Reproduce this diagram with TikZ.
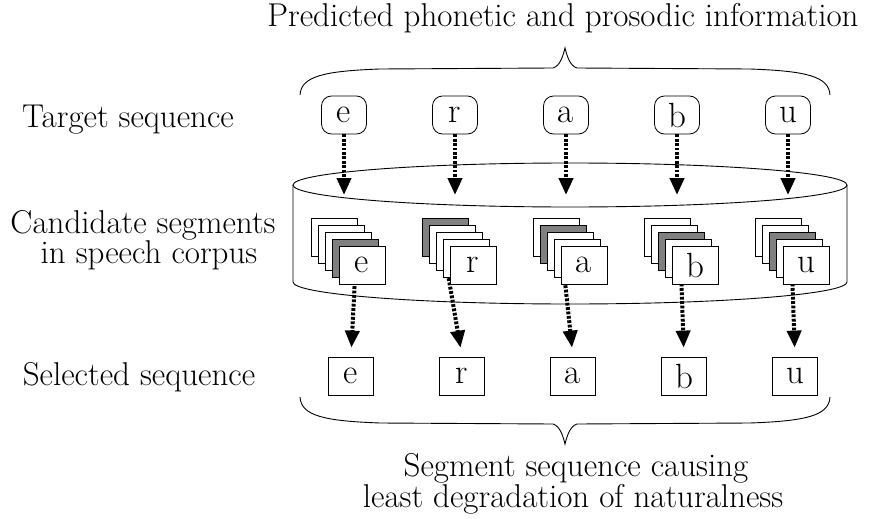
\documentclass[tikz,border=0pt]{standalone}
\usetikzlibrary{arrows.meta}
\pgfdeclarelayer{bg}
\pgfsetlayers{bg,main}

\colorlet{shade}{black!50}

\tikzset{
  label text/.style={font=\fontsize{33}{36}\selectfont, inner sep=0pt},
  letter/.style={font=\fontsize{35}{37}\selectfont},
  target/.style={draw, line width=0.8pt, rounded corners=10pt, minimum width=45pt,
    minimum height=38pt, inner sep=0pt, letter},
  sheet/.style={draw, line width=0.8pt, minimum width=46pt, minimum height=38pt,
    inner sep=0pt, letter},
  chosen/.style={draw, line width=0.8pt, minimum width=45pt, minimum height=38pt,
    inner sep=0pt, letter},
  flow/.style={line width=4pt, dash pattern=on 2.8pt off 1.6pt,
    -{Triangle[width=14pt,length=17pt]}},
  outline/.style={line width=0.9pt}
}

\begin{document}
\begin{tikzpicture}[x=1pt, y=-1pt]
\useasboundingbox (0,0) rectangle (875,519);

% row labels
\node[label text, anchor=base] (lbltop) at (563,27) {Predicted phonetic and prosodic information};
\node[label text, anchor=base] (lbltarget) at (128,127) {Target sequence};
\node[label text, anchor=base] (lblcand1) at (143,233) {Candidate segments};
\node[label text, anchor=base] (lblcand2) at (149,263) {in speech corpus};
\node[label text, anchor=base] (lblsel) at (139,385) {Selected sequence};
\node[label text, anchor=base] (lblbot1) at (576,476) {Segment sequence causing};
\node[label text, anchor=base] (lblbot2) at (573,507) {least degradation of naturalness};

% braces
\draw[outline] (300,95) .. controls (301,76) and (325,71) .. (380,69)
  -- (553,68) .. controls (560,66) and (563,56) .. (565,48)
  .. controls (567,56) and (570,66) .. (577,68)
  -- (750,69) .. controls (805,71) and (829,76) .. (830,95);
\draw[outline] (300,397) .. controls (301,416) and (325,421) .. (380,423)
  -- (553,424) .. controls (560,426) and (563,436) .. (565,444)
  .. controls (567,436) and (570,426) .. (577,424)
  -- (750,423) .. controls (805,421) and (829,416) .. (830,397);

% speech corpus cylinder
\begin{pgfonlayer}{bg}
  \draw[outline] (570,185) ellipse[x radius=277, y radius=22];
  \draw[outline] (293,185) -- (293,282) arc[start angle=180, end angle=0,
    x radius=277, y radius=22] -- (847,185);
\end{pgfonlayer}

% one column per segment: target, candidate stack, selected unit
\foreach \ch/\x/\sel [count=\i] in {e/311/3, r/422/0, a/533/1, b/644/2, u/755/2}{
  \node[target] (t\i) at (\x+33,115) {\ch};
  \coordinate (tin\i) at (\x+33,195);
  \draw[flow] (t\i.south) -- (tin\i);
  \foreach \j in {0,...,4}{
    \ifnum\j=\sel\def\fc{shade}\else\def\fc{white}\fi
    \node[sheet, fill=\fc] (c\i-\j) at (\x+7*\j+23,237+7*\j) {\ifnum\j=4 \ch\fi};
  }
  \node[chosen] (q\i) at (\x+40,376) {\ch};
  \begin{pgfonlayer}{bg}
    \draw[flow, shorten >=9pt] (c\i-\sel.south) -- (q\i.north);
  \end{pgfonlayer}
}
\end{tikzpicture}
\end{document}
